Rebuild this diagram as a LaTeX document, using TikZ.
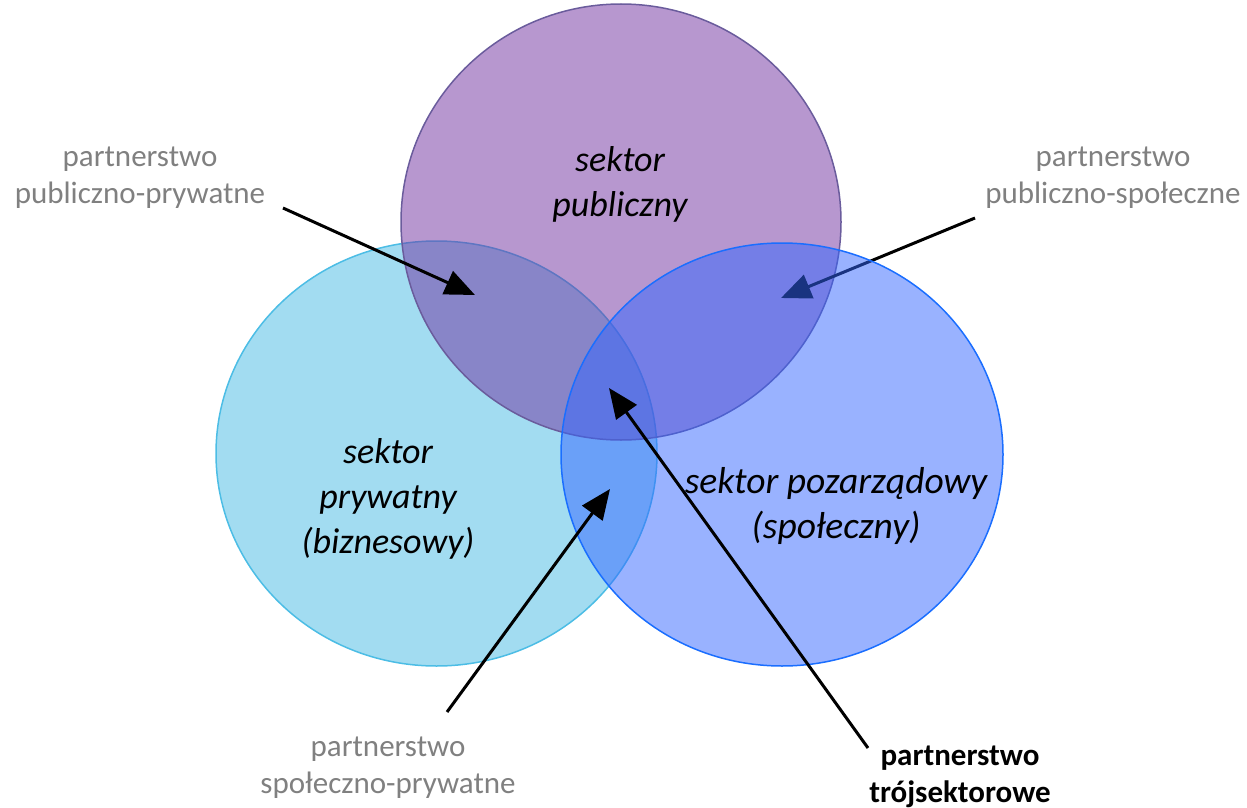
\documentclass[tikz,border=0pt]{standalone}
\usepackage{fontspec}
\setmainfont{Carlito}
\usetikzlibrary{arrows.meta,shapes.geometric}
\definecolor{pubfill}{HTML}{7030A0}
\definecolor{pubedge}{HTML}{6A5C9C}
\definecolor{privfill}{HTML}{A2DCF1}
\definecolor{privedge}{HTML}{4CBDE5}
\definecolor{ngofill}{HTML}{3366FF}
\definecolor{ngoedge}{HTML}{1A6EFF}
\definecolor{labgray}{HTML}{808080}
\tikzset{
  sector/.style={ellipse, inner sep=0pt, line width=1.5pt},
  lab/.style={align=center, inner sep=0pt, text=labgray, font=\fontsize{31}{37}\selectfont},
  boldlab/.style={align=center, inner sep=0pt, text=black, font=\fontsize{31}{37}\selectfont\bfseries},
  sectxt/.style={align=center, inner sep=0pt, font=\fontsize{36}{45}\selectfont\itshape},
  arr/.style={line width=3pt, -{Triangle[length=30pt,width=25pt]}}
}
\begin{document}
\begin{tikzpicture}[x=1pt,y=-1pt]
\useasboundingbox (0,0) rectangle (1247,808);
% circles
\node[sector, minimum width=441pt, minimum height=425pt, draw=privedge, fill=privfill] (priv) at (436.5,453.5) {};
\node[sector, minimum width=440pt, minimum height=436pt, draw=pubedge, fill=pubfill, fill opacity=0.5] (pub) at (621,222) {};
% arrow targets / sources
\coordinate (ppA) at (283,208);
\coordinate (ppB) at (475,295);
\coordinate (psA) at (975,218);
\coordinate (psB) at (781,298);
\coordinate (spA) at (447,712);
\coordinate (spB) at (610,489);
\coordinate (tsA) at (868,748);
\coordinate (tsB) at (609,388);
\draw[arr] (ppA) -- (ppB);
\draw[arr] (psA) -- (psB);
\node[sector, minimum width=442pt, minimum height=423pt, draw=ngoedge, fill=ngofill, fill opacity=0.5] (ngo) at (782,454.5) {};
\draw[arr] (spA) -- (spB);
\draw[arr] (tsA) -- (tsB);
% sector texts
\node[sectxt] (tpub) at (620,184) {sektor\\publiczny};
\node[sectxt] (tpriv) at (388,499) {sektor\\prywatny\\(biznesowy)};
\node[sectxt, font=\fontsize{37.5}{45}\selectfont\itshape] (tngo) at (836,506) {sektor pozarządowy\\(społeczny)};
% partnership labels
\node[lab] (lpp) at (140,178) {partnerstwo\\publiczno-prywatne};
\node[lab] (lps) at (1113,178) {partnerstwo\\publiczno-społeczne};
\node[lab] (lsp) at (388,768) {partnerstwo\\społeczno-prywatne};
\node[boldlab] (lts) at (960,777) {partnerstwo\\trójsektorowe};
\end{tikzpicture}
\end{document}
